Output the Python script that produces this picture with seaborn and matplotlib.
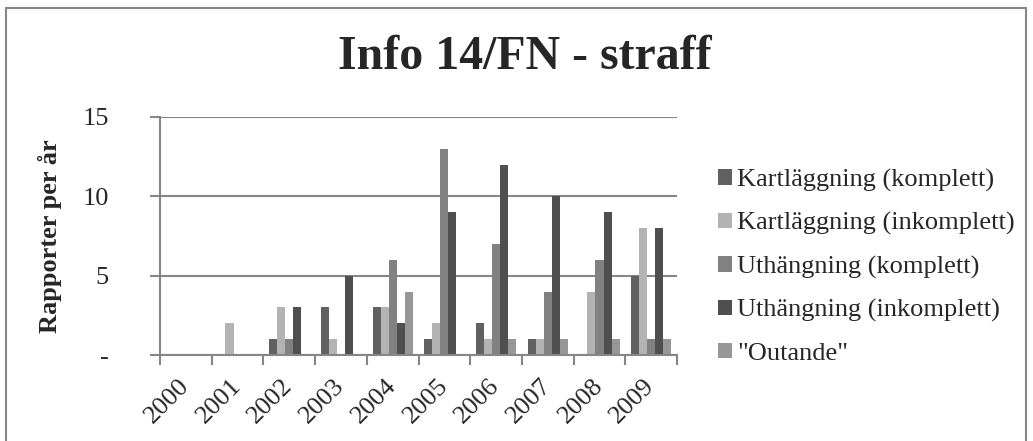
import matplotlib
matplotlib.use("Agg")
import matplotlib.pyplot as plt
import seaborn as sns
import pandas as pd
from matplotlib.patches import Rectangle, Patch

years = ["2000", "2001", "2002", "2003", "2004", "2005", "2006", "2007", "2008", "2009"]
series_names = ["Kartläggning (komplett)", "Kartläggning (inkomplett)",
                "Uthängning (komplett)", "Uthängning (inkomplett)", "\"Outande\""]
kart_komplett = [0, 0, 1, 3, 3, 1, 2, 1, 0, 5]
kart_inkomplett = [0, 2, 3, 1, 3, 2, 1, 1, 4, 8]
uth_komplett = [0, 0, 1, 0, 6, 13, 7, 4, 6, 1]
uth_inkomplett = [0, 0, 3, 5, 2, 9, 12, 10, 9, 8]
outande = [0, 0, 0, 0, 4, 0, 1, 1, 1, 1]
colors = ["#616161", "#b3b3b3", "#818181", "#4f4f4f", "#979797"]
y_ticks = [0, 5, 10, 15]
y_ticklabels = ["-", "5", "10", "15"]

all_series = [kart_komplett, kart_inkomplett, uth_komplett, uth_inkomplett, outande]
rows = []
for name, vals in zip(series_names, all_series):
    for yr, v in zip(years, vals):
        rows.append({"year": yr, "series": name, "value": v})
df = pd.DataFrame(rows)

sns.set_style("white")
plt.rcParams["font.family"] = ["Liberation Serif", "DejaVu Serif"]

fig = plt.figure(figsize=(10.33, 4.41), dpi=100)
ax = fig.add_axes([0.1549, 0.195, 0.5005, 0.5397])

sns.barplot(data=df, x="year", y="value", hue="series", order=years,
            hue_order=series_names, palette=colors, width=0.78, gap=0,
            saturation=1, linewidth=0, ax=ax, legend=False)

ax.set_xlim(-0.5, 9.5)
ax.set_ylim(0, 15)
ax.set_yticks(y_ticks)
ax.set_yticklabels(y_ticklabels, fontsize=19)
ax.yaxis.grid(True, color="#868686", linewidth=1.5)
ax.set_axisbelow(True)
ax.tick_params(axis="y", length=7, width=1.5, color="#868686", pad=30, left=True)

ax.set_xticks(range(len(years)))
ax.set_xticklabels(years, rotation=45, ha="right", va="center",
                   rotation_mode="anchor", fontsize=19)
ax.tick_params(axis="x", which="major", length=0, pad=20)
ax.set_xticks([i - 0.5 for i in range(len(years) + 1)], minor=True)
ax.tick_params(axis="x", which="minor", length=7, width=1.5, color="#868686", bottom=True)

for s in ["top", "right"]:
    ax.spines[s].set_visible(False)
for s in ["left", "bottom"]:
    ax.spines[s].set_color("#868686")
    ax.spines[s].set_linewidth(1.5)

ax.set_xlabel("")
ax.set_ylabel("Rapporter per år", fontsize=19, fontweight="bold")
ax.yaxis.set_label_coords((50 - 160) / 517.0, 0.5)
ax.yaxis.label.set_va("center")

fig.text(0.508, 0.87, "Info 14/FN - straff", fontsize=34.5, fontweight="bold",
         ha="center", va="center")

handles = [Patch(facecolor=c, edgecolor="none") for c in colors]
fig.legend(handles, series_names, loc="center left", bbox_to_anchor=(0.695, 0.395),
           frameon=False, fontsize=19, handlelength=0.53, handleheight=0.53,
           handletextpad=0.2, labelspacing=0.77, borderaxespad=0, borderpad=0)

fig.patches.append(Rectangle((0.0058, -0.05), 0.987, 1.032, transform=fig.transFigure,
                             fill=False, edgecolor="#868686", linewidth=1.5))

fig.savefig("out.png", dpi=100)
